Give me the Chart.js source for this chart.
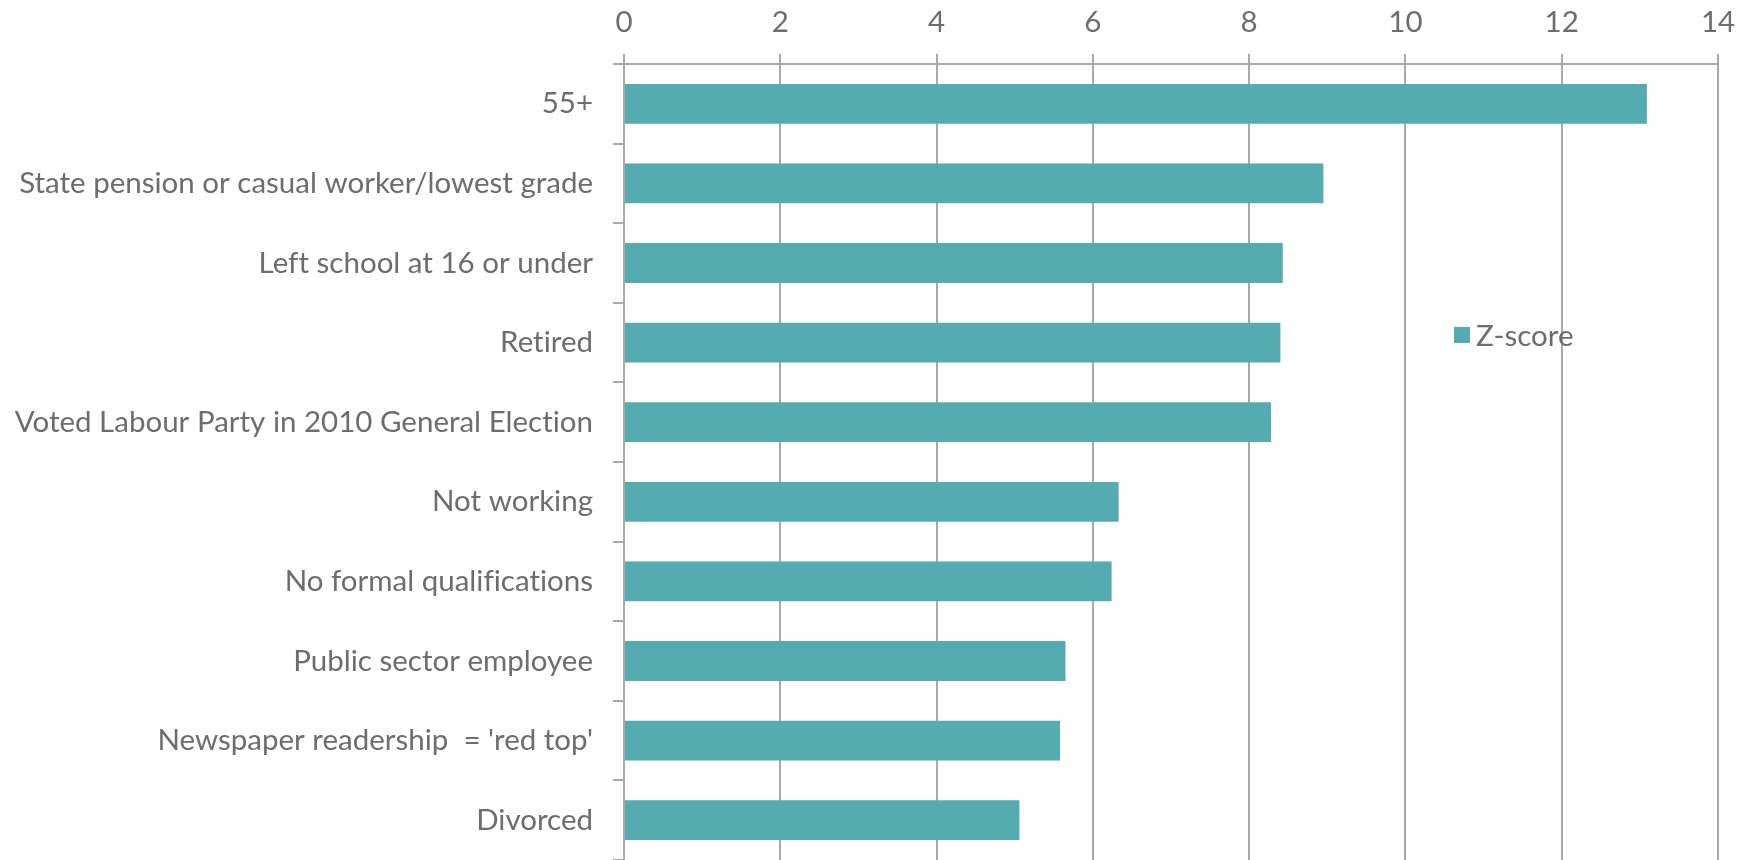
<!DOCTYPE html>
<html>
<head>
<meta charset="utf-8">
<title>Z-score by group</title>
<script src="https://cdn.jsdelivr.net/npm/chart.js@4/dist/chart.umd.min.js"></script>
<style>
  html, body { margin: 0; padding: 0; background: #fff; overflow: hidden; }
  .wrap { position: relative; width: 1751px; height: 860px; }
  .legend {
    position: absolute; left: 1454px; top: 317px;
    display: flex; align-items: center;
    font-family: Lato, "Noto Sans", sans-serif; font-size: 29.5px; color: #6d6d6d;
    font-variant-ligatures: none;
  }
  .legend .swatch { width: 16px; height: 16px; margin-right: 6px; }
</style>
</head>
<body>
<div class="wrap">
  <canvas id="zChart" width="1751" height="860"></canvas>
  <div class="legend" id="legend"></div>
</div>
<script>
// Groups, top to bottom
const categories = [
  '55+',
  'State pension or casual worker/lowest grade',
  'Left school at 16 or under',
  'Retired',
  'Voted Labour Party in 2010 General Election',
  'Not working',
  'No formal qualifications',
  'Public sector employee',
  "Newspaper readership  = 'red top'",
  'Divorced'
];
const zScores = [13.09, 8.95, 8.43, 8.40, 8.28, 6.33, 6.24, 5.65, 5.58, 5.06];
const seriesName = 'Z-score';
const axisMin = 0;
const axisMax = 14;
const axisStep = 2;

const barColor = '#54acb1';
const gridColor = '#a9a9a9';
const textColor = '#6d6d6d';
const fontFamily = 'Lato, "Noto Sans", sans-serif';
const fontSize = 29.5;

// Legend sits over the plot, like the spreadsheet original
const legend = document.getElementById('legend');
legend.innerHTML = `<span class="swatch" style="background:${barColor}"></span><span>${seriesName}</span>`;

// Plain glyphs: keep Lato from joining "ti" into a ligature
const plainTextPlugin = {
  id: 'plainText',
  beforeInit(chart) { chart.ctx.textRendering = 'optimizeSpeed'; },
  beforeDraw(chart) { chart.ctx.textRendering = 'optimizeSpeed'; }
};

new Chart(document.getElementById('zChart'), {
  type: 'bar',
  plugins: [plainTextPlugin],
  data: {
    labels: categories,
    datasets: [{
      label: seriesName,
      data: zScores,
      backgroundColor: barColor,
      borderWidth: 0,
      categoryPercentage: 0.5,
      barPercentage: 1.0
    }]
  },
  options: {
    indexAxis: 'y',
    responsive: false,
    animation: false,
    layout: { padding: { top: 2, right: 33, bottom: 0, left: 10 } },
    plugins: {
      legend: { display: false },
      tooltip: { enabled: false }
    },
    scales: {
      x: {
        position: 'top',
        min: axisMin,
        max: axisMax,
        afterFit: (scale) => { scale.height = 62; },
        ticks: {
          stepSize: axisStep,
          color: textColor,
          padding: 14,
          font: { family: fontFamily, size: fontSize }
        },
        grid: { color: gridColor, lineWidth: 2, tickLength: 10 },
        border: { display: true, color: gridColor, width: 2 }
      },
      y: {
        afterFit: (scale) => {
          // fixed label column; bars run right to the bottom edge
          scale.width = 614;
          scale.paddingTop = 0;
          scale.paddingBottom = 0;
        },
        ticks: {
          color: textColor,
          padding: 20,
          font: { family: fontFamily, size: fontSize }
        },
        grid: { drawOnChartArea: false, color: gridColor, lineWidth: 2, tickLength: 11 },
        border: { display: true, color: gridColor, width: 2 }
      }
    }
  }
});
</script>
</body>
</html>
